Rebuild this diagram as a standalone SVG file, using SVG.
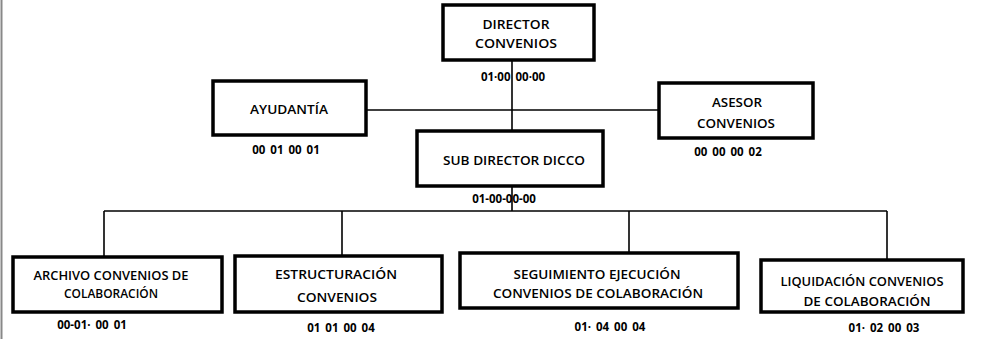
<svg xmlns="http://www.w3.org/2000/svg" width="985" height="339" viewBox="0 0 985 339">
<style>
.box{fill:#fff;stroke:#000;stroke-width:3.5}
.t{font-family:"Open Sans","Liberation Sans",sans-serif;font-size:12.5px;font-weight:600;fill:#000;text-anchor:middle}
.c{font-family:"Open Sans","Liberation Sans",sans-serif;font-size:11.5px;font-weight:700;fill:#000;text-anchor:middle;word-spacing:2px}
.ln{stroke:#000;stroke-width:1.6;fill:none}
</style>
<rect width="985" height="339" fill="#fff"/>
<line x1="1.5" y1="0" x2="1.5" y2="339" stroke="#888" stroke-width="2"/>
<g id="connectors">
<line class="ln" x1="512" y1="60" x2="512" y2="131"/>
<line class="ln" x1="366" y1="110" x2="659" y2="110"/>
<line class="ln" x1="512" y1="186" x2="512" y2="211"/>
<line class="ln" x1="104" y1="211" x2="887" y2="211"/>
<line class="ln" x1="104" y1="211" x2="104" y2="257"/>
<line class="ln" x1="342" y1="211" x2="342" y2="256"/>
<line class="ln" x1="629" y1="211" x2="629" y2="253"/>
<line class="ln" x1="887" y1="211" x2="887" y2="260"/>
</g>
<g id="director">
<rect class="box" x="443" y="5" width="151" height="55"/>
<text class="t" x="516" y="29" textLength="67" lengthAdjust="spacingAndGlyphs">DIRECTOR</text>
<text class="t" x="516" y="48" textLength="82" lengthAdjust="spacingAndGlyphs">CONVENIOS</text>
<text class="c" x="513" y="81">01·00 00·00</text>
</g>
<g id="ayudantia">
<rect class="box" x="213" y="81" width="153" height="54"/>
<text class="t" x="289" y="114" textLength="78" lengthAdjust="spacingAndGlyphs">AYUDANTÍA</text>
<text class="c" x="286" y="154">00 01 00 01</text>
</g>
<g id="asesor">
<rect class="box" x="659" y="83" width="154" height="55"/>
<text class="t" x="737" y="107" textLength="50" lengthAdjust="spacingAndGlyphs">ASESOR</text>
<text class="t" x="736" y="128" textLength="78" lengthAdjust="spacingAndGlyphs">CONVENIOS</text>
<text class="c" x="728" y="156">00  00 00 02</text>
</g>
<g id="subdirector">
<rect class="box" x="417" y="131" width="186" height="55"/>
<text class="t" x="514" y="164.5" textLength="142" lengthAdjust="spacingAndGlyphs">SUB DIRECTOR DICCO</text>
<text class="c" x="504" y="203">01-00-00-00</text>
</g>
<g id="archivo">
<rect class="box" x="13" y="257" width="209" height="55"/>
<text class="t" x="111" y="279.5" textLength="155" lengthAdjust="spacingAndGlyphs">ARCHIVO CONVENIOS DE</text>
<text class="t" x="111" y="297.5" textLength="94" lengthAdjust="spacingAndGlyphs">COLABORACIÓN</text>
<text class="c" x="92" y="329">00-01· 00 01</text>
</g>
<g id="estructuracion">
<rect class="box" x="235" y="256" width="207" height="56"/>
<text class="t" x="336" y="279" textLength="122" lengthAdjust="spacingAndGlyphs">ESTRUCTURACIÓN</text>
<text class="t" x="337" y="302" textLength="80" lengthAdjust="spacingAndGlyphs">CONVENIOS</text>
<text class="c" x="341" y="332">01 01 00 04</text>
</g>
<g id="seguimiento">
<rect class="box" x="460" y="253" width="278" height="55"/>
<text class="t" x="597" y="278.5" textLength="167" lengthAdjust="spacingAndGlyphs">SEGUIMIENTO EJECUCIÓN</text>
<text class="t" x="598" y="297.5" textLength="210" lengthAdjust="spacingAndGlyphs">CONVENIOS DE COLABORACIÓN</text>
<text class="c" x="610" y="331">01· 04 00 04</text>
</g>
<g id="liquidacion">
<rect class="box" x="761" y="260" width="202" height="52"/>
<text class="t" x="862" y="286" textLength="163" lengthAdjust="spacingAndGlyphs">LIQUIDACIÓN CONVENIOS</text>
<text class="t" x="867" y="306" textLength="127" lengthAdjust="spacingAndGlyphs">DE COLABORACIÓN</text>
<text class="c" x="884" y="332">01· 02 00 03</text>
</g>
</svg>
